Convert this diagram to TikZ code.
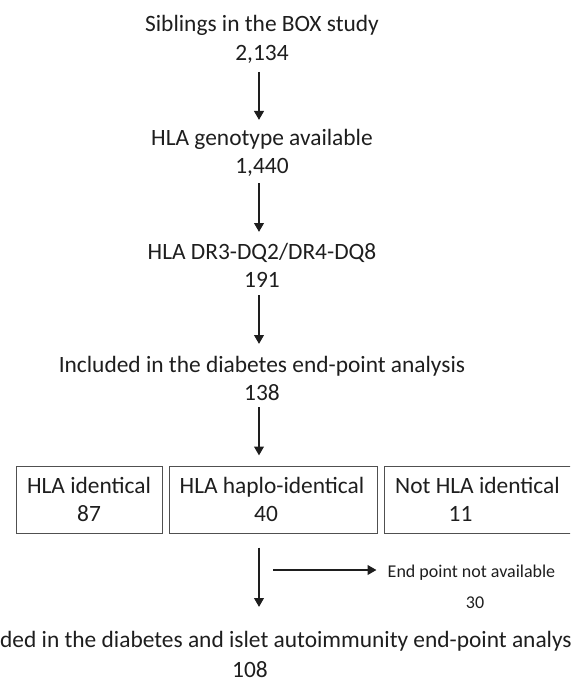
\documentclass[tikz,border=0pt]{standalone}
\usepackage{fontspec}
\setmainfont{Carlito}
\usetikzlibrary{arrows.meta}
\definecolor{ink}{HTML}{1E1E1E}
\definecolor{boxline}{HTML}{505050}
\begin{document}
\begin{tikzpicture}[x=1pt,y=-1pt,
  txt/.style={anchor=base,inner sep=0pt,text=ink,font=\fontsize{23.4}{28.5}\selectfont},
  small/.style={anchor=base,inner sep=0pt,text=ink,font=\fontsize{18}{22}\selectfont},
  boxnode/.style={draw=boxline,line width=1pt,inner sep=0pt},
  arr/.style={draw=ink,line width=2.8pt,-{Triangle[width=9.5pt,length=9pt]}}]
\useasboundingbox (0,0) rectangle (570,679);
\clip (0,0) rectangle (570,679);
\coordinate (ax) at (259,0);
% text blocks
\node[txt] (t1) at (262,32) {Siblings in the BOX study};
\node[txt] (n1) at (262,61) {2,134};
\node[txt] (t2) at (262,146) {HLA genotype available};
\node[txt] (n2) at (262,173) {1,440};
\node[txt] (t3) at (262,259) {HLA DR3-DQ2/DR4-DQ8};
\node[txt] (n3) at (262,287) {191};
\node[txt] (t4) at (262,372) {Included in the diabetes end-point analysis};
\node[txt] (n4) at (262,400) {138};
% boxes
\node[boxnode,minimum width=146pt,minimum height=67pt] (b1) at (89,499.5) {};
\node[boxnode,minimum width=208pt,minimum height=67pt] (b2) at (273,499.5) {};
\node[boxnode,minimum width=196pt,minimum height=67pt] (b3) at (482,499.5) {};
\node[txt] (b1a) at (89,493) {HLA identical};
\node[txt] (b1b) at (89,521) {87};
\node[txt] (b2a) at (272,493) {HLA haplo-identical};
\node[txt] (b2b) at (266,521) {40};
\node[txt] (b3a) at (477.5,493) {Not HLA identical};
\node[txt] (b3b) at (460.5,521) {11};
% side text
\node[small] (ep) at (471.5,577) {End point not available};
\node[small] (ep2) at (475,608) {30};
% final
\node[txt,anchor=base west] (t5) at (0,647) {\llap{Inclu}ded in the diabetes and islet autoimmunity end-point analysis};
\node[txt] (n5) at (250,677) {108};
% arrows
\draw[arr] ([yshift=-11pt]n1.base -| ax) -- ([yshift=26pt]t2.base -| ax);
\draw[arr] ([yshift=-10pt]n2.base -| ax) -- ([yshift=27pt]t3.base -| ax);
\draw[arr] ([yshift=-8pt]n3.base -| ax) -- ([yshift=28pt]t4.base -| ax);
\draw[arr] ([yshift=-7pt]n4.base -| ax) -- ([yshift=10pt]b2.north -| ax);
\draw[arr] ([yshift=-14pt]b2.south -| ax) -- ([yshift=40pt]t5.base -| ax);
\coordinate (hs) at (273,570);
\draw[arr] (hs) -- (ep.west |- hs) [shorten >=11pt];
\end{tikzpicture}
\end{document}
